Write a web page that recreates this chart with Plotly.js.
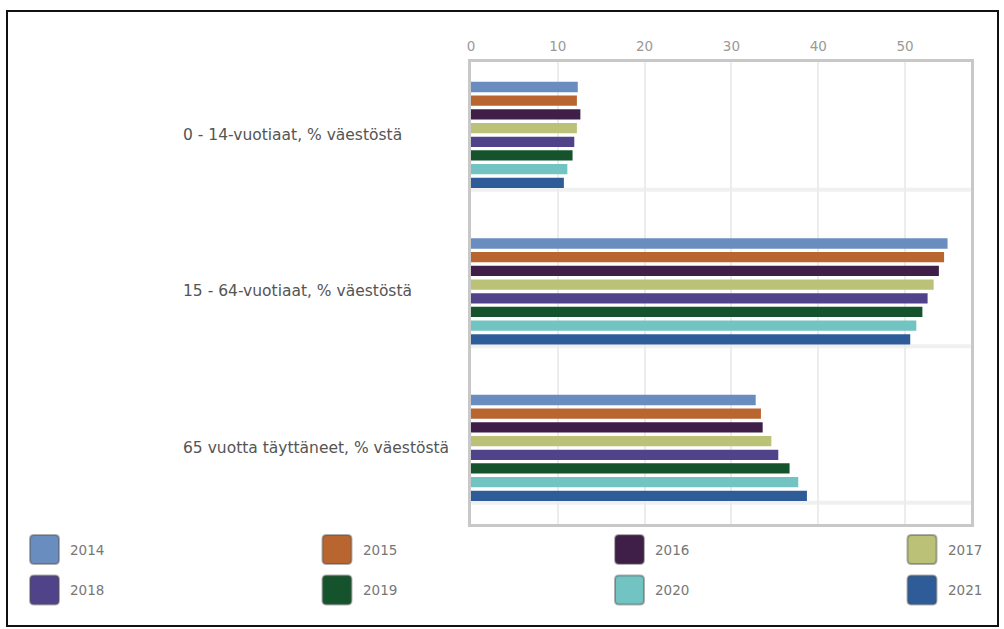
<!DOCTYPE html>
<html>
<head>
<meta charset="utf-8">
<script src="https://cdn.plot.ly/plotly-3.0.1.min.js"></script>
<style>
  html, body { margin: 0; padding: 0; background: #fff; }
  #chart { width: 1004px; height: 629px; }
</style>
</head>
<body>
<div id="chart"></div>
<script>
// ---- Data ----
const categories = [
  "0 - 14-vuotiaat, % väestöstä",
  "15 - 64-vuotiaat, % väestöstä",
  "65 vuotta täyttäneet, % väestöstä"
];
const years = ["2014", "2015", "2016", "2017", "2018", "2019", "2020", "2021"];
const v2014 = [12.3, 54.9, 32.8];
const v2015 = [12.2, 54.5, 33.4];
const v2016 = [12.6, 53.9, 33.6];
const v2017 = [12.2, 53.3, 34.6];
const v2018 = [11.9, 52.6, 35.4];
const v2019 = [11.7, 52.0, 36.7];
const v2020 = [11.1, 51.3, 37.7];
const v2021 = [10.7, 50.6, 38.7];
const seriesValues = [v2014, v2015, v2016, v2017, v2018, v2019, v2020, v2021];
const xTicks = [0, 10, 20, 30, 40, 50];

// ---- Styles ----
const colors = ["#6a8dbf", "#b9652f", "#3f1f47", "#bbc277", "#51438a", "#15532d", "#72c4c2", "#2e5c99"];
const FONT = "DejaVu Sans, Verdana, sans-serif";
const W = 1004, H = 629;
const M = { l: 471, r: 33, t: 62, b: 105 };
const PW = W - M.l - M.r, PH = H - M.t - M.b;
const px2x = p => (p - M.l) / PW;
const px2y = p => (H - M.b - p) / PH;

const traces = years.map((yr, i) => ({
  type: "bar",
  orientation: "h",
  name: yr,
  x: seriesValues[i],
  y: categories,
  marker: { color: colors[i], line: { width: 0 } },
  showlegend: false,
  hoverinfo: "x+name"
}));

const shapes = [];
const annotations = [];

// light separator lines under each group
categories.forEach((c, i) => {
  shapes.push({
    type: "line", layer: "below", xref: "paper", yref: "y",
    x0: 0, x1: 1, y0: i + 0.35, y1: i + 0.35,
    line: { color: "#f0f0f0", width: 4 }
  });
  annotations.push({
    xref: "paper", yref: "y", x: px2x(181), y: c,
    xanchor: "left", yanchor: "middle", showarrow: false,
    text: c, font: { family: FONT, size: 15.5, color: "#555" }
  });
});

// outer frame
shapes.push({
  type: "rect", xref: "paper", yref: "paper", layer: "above",
  x0: px2x(7), x1: px2x(998), y0: px2y(626), y1: px2y(11),
  line: { color: "#111", width: 2 }, fillcolor: "rgba(0,0,0,0)"
});

// custom legend
function roundedRect(x0, y0, w, h, r) {
  const X = p => px2x(p), Y = p => px2y(p);
  const x1 = x0 + w, y1 = y0 + h;
  return `M ${X(x0 + r)},${Y(y0)} L ${X(x1 - r)},${Y(y0)} Q ${X(x1)},${Y(y0)} ${X(x1)},${Y(y0 + r)} ` +
         `L ${X(x1)},${Y(y1 - r)} Q ${X(x1)},${Y(y1)} ${X(x1 - r)},${Y(y1)} ` +
         `L ${X(x0 + r)},${Y(y1)} Q ${X(x0)},${Y(y1)} ${X(x0)},${Y(y1 - r)} ` +
         `L ${X(x0)},${Y(y0 + r)} Q ${X(x0)},${Y(y0)} ${X(x0 + r)},${Y(y0)} Z`;
}
years.forEach((yr, i) => {
  const col = i % 4, row = Math.floor(i / 4);
  const sx = 30 + col * 292.5;
  const cy = 549.5 + row * 40.5;
  shapes.push({
    type: "path", xref: "paper", yref: "paper", layer: "above",
    path: roundedRect(sx, cy - 14.5, 29, 29, 4),
    fillcolor: colors[i], line: { color: "rgba(80,80,80,0.45)", width: 2 }
  });
  annotations.push({
    xref: "paper", yref: "paper", x: px2x(sx + 38), y: px2y(cy),
    xanchor: "left", yanchor: "middle", showarrow: false,
    text: yr, font: { family: FONT, size: 13.5, color: "#777" }
  });
});

const layout = {
  width: W, height: H,
  margin: M,
  paper_bgcolor: "#fff", plot_bgcolor: "#fff",
  barmode: "group",
  bargap: 0.3,
  bargroupgap: 0.25,
  showlegend: false,
  font: { family: FONT, size: 13, color: "#999" },
  xaxis: {
    side: "top",
    range: [0, 57.6],
    tickvals: xTicks,
    ticktext: xTicks.map(String),
    ticks: "",
    showgrid: true, gridcolor: "#ececec", gridwidth: 2,
    zeroline: false,
    showline: true, linecolor: "#c8c8c8", linewidth: 3, mirror: true,
    tickfont: { family: FONT, size: 13.5, color: "#999" },
    ticklabelstandoff: 3,
    fixedrange: true
  },
  yaxis: {
    type: "category",
    categoryorder: "array", categoryarray: categories,
    range: [2.486, -0.466],
    showticklabels: false, ticks: "",
    showgrid: false, zeroline: false,
    showline: true, linecolor: "#c8c8c8", linewidth: 3, mirror: true,
    fixedrange: true
  },
  shapes: shapes,
  annotations: annotations
};

Plotly.newPlot("chart", traces, layout, { displayModeBar: false, staticPlot: true });
</script>
</body>
</html>
